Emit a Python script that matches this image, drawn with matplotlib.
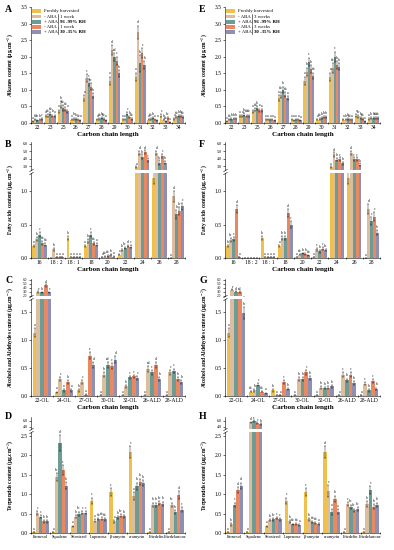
import matplotlib
matplotlib.use('Agg')
import matplotlib.pyplot as plt
import numpy as np
from matplotlib.patches import Rectangle
from matplotlib.lines import Line2D
from matplotlib.ticker import FormatStrFormatter

plt.rcParams['font.family'] = ['Liberation Serif', 'DejaVu Serif']
plt.rcParams['mathtext.fontset'] = 'stix'

# series / colours
series = ['Freshly harvested', '- ABA', '+ ABA', '- ABA', '+ ABA']
colors = ['#EFC14C', '#DCBD9D', '#6D9B96', '#EA8862', '#8D90B3']

# ---------------- alkanes ----------------
alk_cats = ['22', '23', '25', '26', '27', '28', '29', '30', '31', '32', '33', '34']
alk_1w = [[0.05, 0.10, 0.08, 0.10, 0.12], [0.20, 0.22, 0.28, 0.22, 0.20],
          [0.35, 0.55, 0.45, 0.42, 0.35], [0.10, 0.13, 0.12, 0.10, 0.08],
          [0.75, 1.35, 1.22, 1.10, 0.82], [0.10, 0.12, 0.15, 0.12, 0.08],
          [1.28, 2.20, 1.98, 1.88, 1.50], [0.10, 0.10, 0.28, 0.18, 0.12],
          [1.40, 2.74, 1.80, 2.10, 1.75], [0.10, 0.12, 0.15, 0.10, 0.08],
          [0.22, 0.10, 0.05, 0.15, 0.02], [0.12, 0.18, 0.20, 0.20, 0.18]]
alk_1w_err = [[0.01, 0.02, 0.02, 0.02, 0.02], [0.03, 0.04, 0.05, 0.03, 0.03],
              [0.05, 0.10, 0.08, 0.06, 0.05], [0.02, 0.03, 0.02, 0.02, 0.02],
              [0.08, 0.12, 0.10, 0.10, 0.08], [0.02, 0.03, 0.03, 0.02, 0.02],
              [0.12, 0.15, 0.12, 0.12, 0.10], [0.02, 0.02, 0.05, 0.03, 0.02],
              [0.12, 0.20, 0.25, 0.15, 0.12], [0.02, 0.02, 0.03, 0.02, 0.02],
              [0.04, 0.02, 0.01, 0.03, 0.01], [0.02, 0.03, 0.03, 0.03, 0.03]]
alk_1w_let = ['a ab b b c', 'a ab ab b a', 'a b ab ab a', 'a b b ab a', 'a c c bc b', 'a ab b ab a',
              'a d cd c b', 'a a c b ab', 'a d b c b', 'a ab b a a', 'c b ab bc a', 'a ab b b ab']

alk_3w = [[0.05, 0.10, 0.12, 0.13, 0.13], [0.20, 0.20, 0.25, 0.22, 0.22],
          [0.35, 0.40, 0.45, 0.38, 0.38], [0.10, 0.10, 0.10, 0.10, 0.08],
          [0.75, 0.85, 1.00, 0.85, 0.75], [0.10, 0.08, 0.10, 0.10, 0.08],
          [1.28, 1.55, 1.85, 1.62, 1.42], [0.10, 0.12, 0.15, 0.18, 0.18],
          [1.40, 1.65, 2.00, 1.75, 1.70], [0.10, 0.10, 0.12, 0.10, 0.10],
          [0.22, 0.20, 0.15, 0.12, 0.05], [0.12, 0.15, 0.15, 0.15, 0.15]]
alk_3w_err = [[0.01, 0.02, 0.02, 0.02, 0.02], [0.03, 0.03, 0.04, 0.03, 0.03],
              [0.05, 0.05, 0.06, 0.05, 0.04], [0.01, 0.02, 0.02, 0.02, 0.01],
              [0.08, 0.10, 0.10, 0.08, 0.06], [0.02, 0.02, 0.02, 0.02, 0.01],
              [0.12, 0.12, 0.12, 0.12, 0.10], [0.02, 0.02, 0.03, 0.03, 0.02],
              [0.12, 0.15, 0.15, 0.12, 0.10], [0.02, 0.02, 0.02, 0.02, 0.02],
              [0.04, 0.04, 0.03, 0.03, 0.01], [0.02, 0.03, 0.03, 0.03, 0.02]]
alk_3w_let = ['a ab b b b', 'a a b ab ab', 'a ab b a a', 'a a a a a', 'a ab b ab a', 'a a a a a',
              'a b c b ab', 'a ab b b b', 'a ab c b b', 'a b b ab a', 'c bc b ab a', 'a b b ab ab']

# ---------------- fatty acids ----------------
fa_cats = ['16', '18 : 2', '18 : 1', '18', '20', '22', '24', '26', '28']
fa_1w = [[0.18, 0.28, 0.35, 0.22, 0.20], [0.00, 0.13, 0.01, 0.01, 0.01],
         [0.30, 0.01, 0.01, 0.01, 0.01], [0.18, 0.25, 0.35, 0.22, 0.20],
         [0.01, 0.02, 0.03, 0.05, 0.02], [0.05, 0.12, 0.15, 0.18, 0.17],
         [2.90, 4.80, 4.30, 4.90, 3.80], [1.20, 4.80, 3.50, 4.40, 3.50],
         [0.00, 0.92, 0.65, 0.70, 0.77]]
fa_1w_err = [[0.02, 0.03, 0.04, 0.03, 0.02], [0.00, 0.02, 0.00, 0.00, 0.00],
             [0.03, 0.00, 0.00, 0.00, 0.00], [0.02, 0.03, 0.04, 0.02, 0.02],
             [0.00, 0.01, 0.01, 0.01, 0.01], [0.01, 0.02, 0.02, 0.02, 0.02],
             [0.10, 0.30, 0.30, 0.30, 0.25], [0.10, 0.30, 0.30, 0.30, 0.25],
             [0.00, 0.08, 0.06, 0.06, 0.05]]
fa_1w_let = ['a b c ab ab', '- b a a a', 'b a a a a', 'a b c ab a', 'a ab ab b a',
             'a b bc d c', 'a d b d c', 'a d b c b', 'a d b bc c']

fa_3w = [[0.18, 0.27, 0.28, 0.73, 0.01], [0.00, 0.00, 0.00, 0.00, 0.00],
         [0.30, 0.01, 0.01, 0.01, 0.01], [0.18, 0.30, 0.30, 0.67, 0.50],
         [0.01, 0.05, 0.07, 0.06, 0.04], [0.02, 0.13, 0.10, 0.14, 0.12],
         [2.90, 4.60, 3.90, 4.00, 3.40], [1.20, 4.80, 4.00, 4.00, 3.20],
         [0.00, 0.73, 0.55, 0.62, 0.38]]
fa_3w_err = [[0.02, 0.03, 0.03, 0.06, 0.00], [0.00, 0.00, 0.00, 0.00, 0.00],
             [0.03, 0.00, 0.00, 0.00, 0.00], [0.02, 0.03, 0.03, 0.06, 0.05],
             [0.00, 0.01, 0.01, 0.01, 0.01], [0.00, 0.02, 0.02, 0.02, 0.02],
             [0.10, 0.30, 0.25, 0.25, 0.20], [0.10, 0.30, 0.25, 0.25, 0.20],
             [0.00, 0.07, 0.06, 0.06, 0.04]]
fa_3w_let = ['b bc c d a', '- - - - -', 'b a a a a', 'a b b d c', 'a ab b b ab',
             'a c b c bc', 'a d b c b', 'a d c c b', 'a d c c b']

# ---------------- alcohols and aldehydes ----------------
al_cats = ['22-OL', '24-OL', '27-OL', '30-OL', '32-OL', '26-ALD', '28-ALD']
al_1w = [[1.13, 2.90, 2.80, 4.60, 2.80], [0.07, 0.30, 0.10, 0.25, 0.10],
         [0.10, 0.25, 0.02, 0.72, 0.55], [0.02, 0.38, 0.55, 0.53, 0.65],
         [0.02, 0.17, 0.33, 0.35, 0.32], [0.02, 0.48, 0.42, 0.55, 0.30],
         [0.02, 0.42, 0.45, 0.30, 0.25]]
al_1w_err = [[0.08, 0.20, 0.20, 0.30, 0.20], [0.01, 0.03, 0.02, 0.03, 0.02],
             [0.02, 0.03, 0.01, 0.06, 0.05], [0.00, 0.04, 0.05, 0.05, 0.06],
             [0.00, 0.03, 0.03, 0.03, 0.03], [0.00, 0.05, 0.04, 0.05, 0.03],
             [0.00, 0.04, 0.04, 0.03, 0.03]]
al_1w_let = ['a e b d c', 'a c a b a', 'b c a e d', 'a b cd c d', 'a b c c c',
             'a cd c d b', 'a c c b b']

al_3w = [[1.13, 3.50, 3.00, 2.90, 1.48], [0.08, 0.10, 0.20, 0.08, 0.05],
         [0.10, 0.02, 0.02, 0.25, 0.12], [0.01, 0.30, 0.30, 0.42, 0.32],
         [0.01, 0.15, 0.14, 0.15, 0.17], [0.02, 0.38, 0.28, 0.38, 0.23],
         [0.01, 0.22, 0.10, 0.27, 0.13]]
al_3w_err = [[0.08, 0.20, 0.20, 0.20, 0.10], [0.01, 0.02, 0.03, 0.01, 0.01],
             [0.02, 0.00, 0.00, 0.04, 0.02], [0.00, 0.03, 0.03, 0.04, 0.03],
             [0.00, 0.02, 0.02, 0.02, 0.02], [0.00, 0.04, 0.03, 0.04, 0.03],
             [0.00, 0.03, 0.02, 0.03, 0.02]]
al_3w_let = ['a e d cd b', 'ab b c ab a', 'b a a c b', 'a b b c b', 'a b b b b',
             'a c b c b', 'a c b c b']

# ---------------- terpenoids ----------------
tp_cats = ['Farnesol', 'Squalene', 'Sitosterol', 'Lupenone', '\u03b2-amyrin',
           '\u03b1-amyrin', 'Friedelin', 'Friedelanone']
tp_1w = [[0.02, 0.52, 0.42, 0.30, 0.30], [0.02, 1.45, 2.32, 1.62, 1.22],
         [0.17, 0.42, 0.50, 0.52, 0.52], [0.83, 0.32, 0.36, 0.37, 0.35],
         [1.05, 0.30, 0.40, 0.45, 0.43], [2.08, 0.95, 1.20, 1.32, 1.28],
         [0.02, 0.72, 0.72, 0.77, 0.75], [0.02, 0.72, 0.53, 0.97, 0.60]]
tp_1w_err = [[0.00, 0.05, 0.04, 0.03, 0.03], [0.00, 0.10, 0.20, 0.12, 0.10],
             [0.02, 0.04, 0.05, 0.04, 0.04], [0.08, 0.03, 0.03, 0.03, 0.03],
             [0.10, 0.03, 0.04, 0.04, 0.04], [0.15, 0.10, 0.10, 0.08, 0.08],
             [0.00, 0.06, 0.06, 0.06, 0.06], [0.00, 0.06, 0.05, 0.10, 0.06]]
tp_1w_let = ['a c c b b', 'a bc d c b', 'a b bc c c', 'c a ab ab ab', 'c a b bc b',
             'c a b b b', 'a b b bc b', 'a bc b d c']

tp_3w = [[0.02, 0.22, 0.72, 1.10, 1.22], [0.02, 5.50, 5.90, 5.30, 5.00],
         [0.17, 0.33, 0.35, 0.38, 0.35], [0.83, 0.30, 0.22, 0.23, 0.20],
         [1.05, 0.35, 0.28, 0.25, 0.23], [2.08, 1.08, 0.55, 0.88, 0.55],
         [0.02, 0.75, 0.68, 0.58, 0.62], [0.02, 0.75, 1.10, 0.68, 0.72]]
tp_3w_err = [[0.00, 0.03, 0.06, 0.08, 0.08], [0.00, 0.30, 0.30, 0.25, 0.20],
             [0.02, 0.03, 0.03, 0.03, 0.03], [0.08, 0.03, 0.02, 0.02, 0.02],
             [0.10, 0.04, 0.03, 0.03, 0.02], [0.15, 0.15, 0.08, 0.08, 0.06],
             [0.00, 0.05, 0.05, 0.05, 0.05], [0.00, 0.08, 0.10, 0.06, 0.06]]
tp_3w_let = ['a b c d d', 'a d e c b', 'a b bc c c', 'c b ab ab a', 'c b ab ab a',
             'd c a b a', 'a c bc bc bc', 'a b c b b']

W, H = 394, 550
fig = plt.figure(figsize=(W / 100, H / 100), dpi=100)


def box(l, t, r, b):
    return [l / W, 1 - b / H, (r - l) / W, (b - t) / H]


def draw_bars(ax, rows, errs, letters, ymax, on_upper=None):
    vals = np.array(rows).T
    err = np.array(errs).T
    x = np.arange(vals.shape[1])
    w = 0.17
    for i in range(5):
        xs = x + (i - 2) * w
        ax.bar(xs, vals[i], w, color=colors[i], linewidth=0,
               yerr=err[i], error_kw=dict(elinewidth=0.3, capsize=0.7, capthick=0.3, ecolor='black'))
        if on_upper is None:
            continue
        for j in range(len(x)):
            lab = letters[j].split()[i]
            if lab == '-':
                continue
            top = vals[i][j] + err[i][j]
            if on_upper(top):
                continue
            ax.text(xs[j], top + ymax * 0.012, lab, fontsize=2.6, ha='center', va='bottom')


def style_x(ax, cats, xlabel, fs=4):
    n = len(cats)
    ax.set_xlim(-0.5, n - 0.5)
    ax.set_xticks(np.arange(n))
    ax.set_xticklabels(cats, fontsize=fs)
    ax.set_xticks(np.arange(n + 1) - 0.5, minor=True)
    ax.tick_params(axis='x', which='major', length=0, pad=1.5)
    ax.tick_params(axis='x', which='minor', length=1.5, width=0.4, direction='inout')
    if xlabel:
        ax.set_xlabel('Carbon chain length', fontsize=5, fontweight='bold', labelpad=1.5)


def style_y(ax, lim, ticks, fs=4):
    ax.set_ylim(*lim)
    ax.set_yticks(ticks)
    ax.yaxis.set_major_formatter(FormatStrFormatter('%.1f'))
    ax.tick_params(axis='y', labelsize=fs, length=1.5, width=0.4, pad=1)
    for s in ['top', 'right']:
        ax.spines[s].set_visible(False)
    for s in ['left', 'bottom']:
        ax.spines[s].set_linewidth(0.4)


def panel(cx, ry, cats, rows, errs, letters, low_lim, low_ticks, up_lim=None, up_ticks=None,
          xlabel=True, up_fs=3, xfs=4):
    l, r = cx
    if up_lim is None:
        ax = fig.add_axes(box(l, ry[0], r, ry[1]))
        draw_bars(ax, rows, errs, letters, low_lim[1], on_upper=lambda t: False)
        style_y(ax, low_lim, low_ticks)
        style_x(ax, cats, xlabel, xfs)
        return ax
    ax_u = fig.add_axes(box(l, ry[0], r, ry[1]))
    ax_l = fig.add_axes(box(l, ry[2], r, ry[3]))
    cut = low_lim[1]
    draw_bars(ax_l, rows, errs, letters, low_lim[1], on_upper=lambda t: t > cut * 0.97)
    draw_bars(ax_u, rows, errs, letters, up_lim[1] - up_lim[0], on_upper=lambda t: t <= cut * 0.97)
    style_y(ax_l, low_lim, low_ticks)
    style_y(ax_u, up_lim, up_ticks, fs=up_fs)
    style_x(ax_l, cats, xlabel, xfs)
    ax_u.set_xlim(ax_l.get_xlim())
    ax_u.spines['bottom'].set_visible(False)
    ax_u.set_xticks([])
    ax_u.set_xticks([], minor=True)
    # break marks on the left spine
    kw = dict(marker=[(-1, -0.6), (1, 0.6)], markersize=3, linestyle='none',
              color='k', mec='k', mew=0.4, clip_on=False)
    ax_u.plot([0], [0], transform=ax_u.transAxes, **kw)
    ax_l.plot([0], [1], transform=ax_l.transAxes, **kw)
    return ax_u


def legend(ax_px, weeks):
    x0, t0 = ax_px
    rows_y = [t0 + 4, t0 + 9.5, t0 + 14.8, t0 + 20, t0 + 25.2]
    for i, yy in enumerate(rows_y):
        fig.add_artist(Rectangle(((x0) / W, 1 - (yy + 1.8) / H), 9 / W, 3.6 / H,
                                 transform=fig.transFigure, facecolor=colors[i], edgecolor='none'))
        fig.text((x0 + 12) / W, 1 - yy / H, series[i], fontsize=3.5, va='center')
    for k, rh in enumerate(['96 -99% RH', '30 -35% RH']):
        ya, yb = rows_y[1 + 2 * k], rows_y[2 + 2 * k]
        xb = x0 + 26
        fig.add_artist(Line2D([xb / W, xb / W], [1 - (ya - 2.2) / H, 1 - (yb + 2.2) / H],
                              transform=fig.transFigure, color='k', linewidth=0.4))
        fig.text((xb + 2) / W, 1 - ya / H, weeks, fontsize=3.5, va='center')
        fig.text((xb + 2) / W, 1 - yb / H, rh, fontsize=3.5, va='center', fontweight='bold')


cols = [(31, 185), (225, 380)]
rowA = (7, 123)
rowB = (142, 170, 173, 258)
rowC = (279, 296, 299, 396)
rowD = (417, 429, 432, 533)

alk_ticks = [0, 0.5, 1.0, 1.5, 2.0, 2.5, 3.0, 3.5]
for c, rows, errs, lets, weeks in [(0, alk_1w, alk_1w_err, alk_1w_let, '1 week'),
                                   (1, alk_3w, alk_3w_err, alk_3w_let, '3 weeks')]:
    panel(cols[c], rowA, alk_cats, rows, errs, lets, (0, 3.5), alk_ticks)
    legend((cols[c][0] + 1, 7), weeks)

for c, rows, errs, lets in [(0, fa_1w, fa_1w_err, fa_1w_let), (1, fa_3w, fa_3w_err, fa_3w_let)]:
    panel(cols[c], rowB, fa_cats, rows, errs, lets, (0, 1.27), [0, 0.5, 1.0],
          (2.5, 6.25), [3.0, 4.0, 5.0, 6.0])

for c, rows, errs, lets in [(0, al_1w, al_1w_err, al_1w_let), (1, al_3w, al_3w_err, al_3w_let)]:
    panel(cols[c], rowC, al_cats, rows, errs, lets, (0, 1.73), [0, 0.5, 1.0, 1.5],
          (1.9, 6.2), [2.0, 3.0, 4.0, 5.0, 6.0], up_fs=2.5)

for c, rows, errs, lets in [(0, tp_1w, tp_1w_err, tp_1w_let), (1, tp_3w, tp_3w_err, tp_3w_let)]:
    panel(cols[c], rowD, tp_cats, rows, errs, lets, (0, 2.6), [0, 0.5, 1.0, 1.5, 2.0, 2.5],
          (3.3, 7.3), [4.0, 6.0], xlabel=False, up_fs=3, xfs=3.2)

unit = ' (\u03bcg.cm$^{-2}$)'
ylabels = ['Alkanes content' + unit, 'Fatty acids content' + unit,
           'Alcohols and Aldehydes content' + unit, 'Terpenoids content' + unit]
centers = [(rowA[0] + rowA[1]) / 2, (rowB[0] + rowB[3]) / 2,
           (rowC[0] + rowC[3]) / 2, (rowD[0] + rowD[3]) / 2]
tops = [5, 140, 276, 412]
for k in range(4):
    for c, xl in enumerate([11, 205]):
        fig.text(xl / W, 1 - centers[k] / H, ylabels[k], rotation=90, fontsize=4,
                 fontweight='bold', ha='center', va='center')
        fig.text((5 + 194 * c) / W, 1 - tops[k] / H, 'ABCD'[k] if c == 0 else 'EFGH'[k],
                 fontsize=7, fontweight='bold', va='top')

fig.savefig('out.png', dpi=100)
